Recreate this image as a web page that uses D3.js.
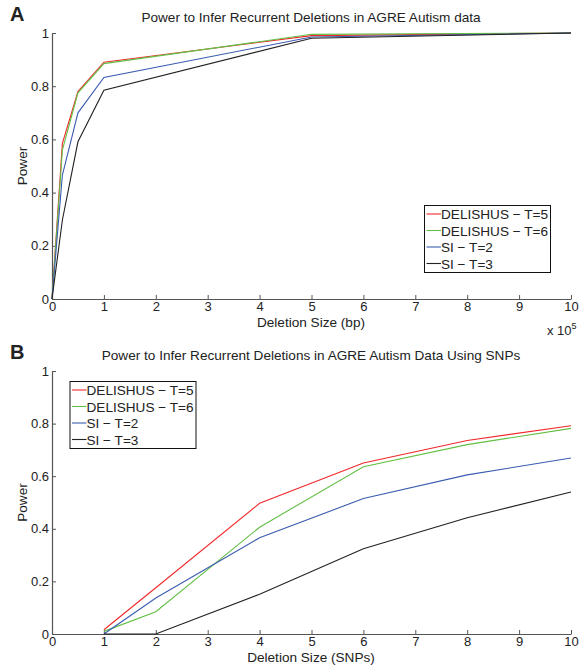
<!DOCTYPE html>
<html>
<head>
<meta charset="utf-8">
<script src="https://cdn.jsdelivr.net/npm/d3@7"></script>
<style>
  body { margin: 0; background: #fff; }
  text { font-family: "Liberation Sans", Arial, sans-serif; fill: #222; }
</style>
</head>
<body>
<div id="chart"></div>
<script>
// panel A : deletion size in bp (x 10^5)
var sizeBp = [0, 0.2, 0.5, 1, 5, 10];
var aDel5 = [0, 0.585, 0.78, 0.89, 0.99, 1];
var aDel6 = [0, 0.56, 0.775, 0.885, 0.995, 1];
var aSi2 = [0, 0.466, 0.70, 0.833, 0.985, 1];
var aSi3 = [0, 0.297, 0.591, 0.785, 0.98, 1];

// panel B : deletion size in SNPs
var sizeSnp = [1, 2, 4, 6, 8, 10];
var bDel5 = [0.016, 0.176, 0.497, 0.650, 0.736, 0.792];
var bDel6 = [0.01, 0.085, 0.406, 0.636, 0.720, 0.782];
var bSi2 = [0, 0.137, 0.366, 0.515, 0.605, 0.669];
var bSi3 = [0, 0, 0.151, 0.324, 0.442, 0.540];

var seriesNames = ["DELISHUS \u2212 T=5", "DELISHUS \u2212 T=6", "SI \u2212 T=2", "SI \u2212 T=3"];
var seriesColors = ["#f0282a", "#63bf45", "#3a5bb0", "#222222"];
var xTicks = [0, 1, 2, 3, 4, 5, 6, 7, 8, 9, 10];
var yTicks = [0, 0.2, 0.4, 0.6, 0.8, 1];

var width = 588,
  height = 667;

var svg = d3.select('#chart')
  .append('svg')
  .attr('width', width)
  .attr('height', height)

function drawPanel(p) {
  var x = d3.scaleLinear().domain([0, 10]).range([52, 571]);
  var y = d3.scaleLinear().domain([0, 1]).range([p.bottom, p.top]);

  var g = svg.append('g');

  // axes (MATLAB style, ticks inside)
  var xAxis = d3.axisBottom(x).tickValues(xTicks).tickFormat(d3.format('d'))
    .tickSizeInner(-4).tickSizeOuter(0).tickPadding(5);
  var gx = g.append('g').attr('transform', 'translate(0,' + p.bottom + ')').call(xAxis);

  var yAxis = d3.axisLeft(y).tickValues(yTicks).tickFormat(d => d == 0 || d == 1 ? d : d3.format('.1f')(d))
    .tickSizeInner(-4).tickSizeOuter(0).tickPadding(3);
  var gy = g.append('g').attr('transform', 'translate(52,0)').call(yAxis);

  [gx, gy].forEach(function (a) {
    a.select('.domain').attr('stroke', '#555').attr('stroke-width', 1.2);
    a.selectAll('.tick line').attr('stroke', '#555');
    a.selectAll('.tick text').attr('fill', '#222').style('font-size', '13px')
      .style('font-family', '"Liberation Sans", Arial, sans-serif');
  });
  gx.selectAll('.tick text').attr('dy', '0.5em');

  // lines
  var line = d3.line().x(d => x(d[0])).y(d => y(d[1]));
  p.series.forEach(function (s, i) {
    g.append('path')
      .datum(p.xs.map((v, j) => [v, s[j]]))
      .attr('fill', 'none')
      .attr('stroke', seriesColors[i])
      .attr('stroke-width', 1.1)
      .attr('d', line);
  });

  // titles and labels
  g.append('text').attr('x', 311).attr('y', p.top - 11).attr('text-anchor', 'middle')
    .style('font-size', '13.6px').text(p.title);
  g.append('text').attr('x', 10).attr('y', p.top - 12)
    .style('font-size', '20px').style('font-weight', 'bold').text(p.letter);
  g.append('text').attr('transform', 'translate(27,' + ((p.top + p.bottom) / 2) + ') rotate(-90)')
    .attr('text-anchor', 'middle').style('font-size', '13.6px').text('Power');
  g.append('text').attr('x', 311).attr('y', p.bottom + 28).attr('text-anchor', 'middle')
    .style('font-size', '13.6px').text(p.xlabel);

  // legend
  var lg = g.append('g').attr('transform', 'translate(' + p.legend[0] + ',' + p.legend[1] + ')');
  lg.append('rect').attr('width', 126).attr('height', 67)
    .attr('fill', '#fff').attr('stroke', '#111').attr('stroke-width', 1);
  seriesNames.forEach(function (n, i) {
    var ly = 8.5 + i * 16.5;
    lg.append('line').attr('x1', 2).attr('x2', 16.5).attr('y1', ly).attr('y2', ly)
      .attr('stroke', seriesColors[i]).attr('stroke-width', 1.1);
    lg.append('text').attr('x', 16.5).attr('y', ly + 5).style('font-size', '13.6px').text(n);
  });
  return g;
}

var gA = drawPanel({
  letter: 'A',
  title: 'Power to Infer Recurrent Deletions in AGRE Autism data',
  xlabel: 'Deletion Size (bp)',
  top: 33, bottom: 299,
  xs: sizeBp,
  series: [aDel5, aDel6, aSi2, aSi3],
  legend: [424.5, 205.5]
});

// exponent label for panel A
var expo = gA.append('text').attr('x', 547).attr('y', 335).style('font-size', '13px');
expo.append('tspan').text('x 10');
expo.append('tspan').attr('dy', -6).style('font-size', '9px').text('5');

drawPanel({
  letter: 'B',
  title: 'Power to Infer Recurrent Deletions in AGRE Autism Data Using SNPs',
  xlabel: 'Deletion Size (SNPs)',
  top: 371, bottom: 634,
  xs: sizeSnp,
  series: [bDel5, bDel6, bSi2, bSi3],
  legend: [70, 381.5]
});
</script>
</body>
</html>
